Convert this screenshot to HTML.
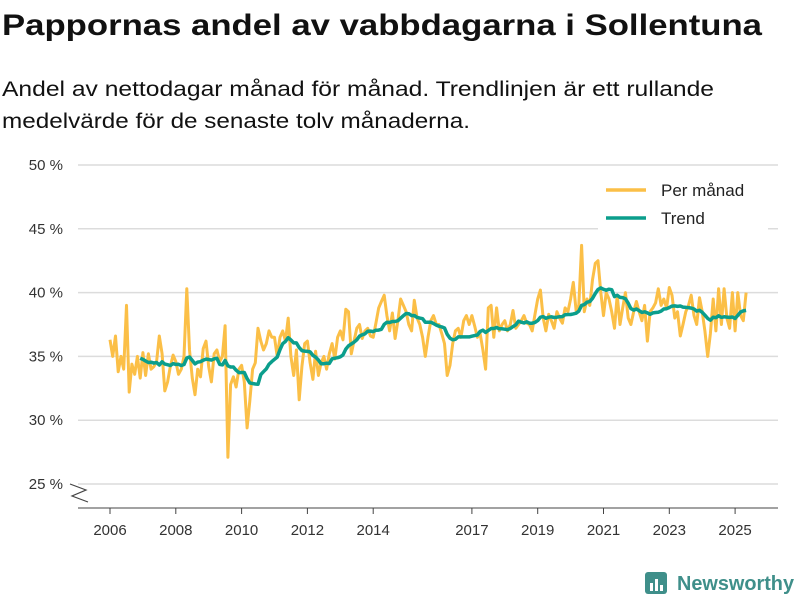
<!DOCTYPE html>
<html><head><meta charset="utf-8"><style>
body{margin:0;background:#fff;}
svg{display:block;font-family:"Liberation Sans",sans-serif;}
</style></head><body>
<svg id="chart" width="800" height="600">
<text x="2" y="35" font-size="30" font-weight="bold" fill="#111" textLength="760" lengthAdjust="spacingAndGlyphs">Pappornas andel av vabbdagarna i Sollentuna</text>
<text x="2" y="96" font-size="21" fill="#111" textLength="712" lengthAdjust="spacingAndGlyphs">Andel av nettodagar månad för månad. Trendlinjen är ett rullande</text>
<text x="2" y="128" font-size="21" fill="#111" textLength="468" lengthAdjust="spacingAndGlyphs">medelvärde för de senaste tolv månaderna.</text>
<g id="grid"></g><g id="xaxis"></g><g id="series"></g>
<g>
<rect x="598" y="176" width="170" height="56" fill="#fff"/>
<line x1="606" y1="190" x2="646" y2="190" stroke="#fbbf47" stroke-width="3.5"/>
<text x="661" y="196" font-size="17" fill="#222">Per månad</text>
<line x1="606" y1="218" x2="646" y2="218" stroke="#0b9e8c" stroke-width="3.5"/>
<text x="661" y="224" font-size="17" fill="#222">Trend</text>
</g>
<g>
<rect x="645" y="572" width="22" height="22" rx="3" fill="#3f8f8a"/>
<rect x="650" y="583" width="3" height="8" fill="#fff"/><rect x="655" y="579" width="3" height="12" fill="#fff"/><rect x="660" y="585" width="3" height="6" fill="#fff"/>
<text x="677" y="590" font-size="20" font-weight="bold" fill="#3f8f8a" textLength="117" lengthAdjust="spacingAndGlyphs">Newsworthy</text>
</g>
</svg>
<script>
const startYear = 2006;
const monthly = [
36.3,35.0,36.6,33.8,35.0,34.0,39.0,32.2,34.4,33.6,35.0,33.3,
35.3,33.5,35.2,34.0,34.2,34.6,36.6,35.2,32.3,33.0,34.2,35.1,
34.6,33.6,34.0,35.0,40.3,35.5,33.3,32.0,34.0,33.4,35.6,36.2,
34.2,33.0,35.2,35.5,34.6,35.0,37.4,27.1,32.8,33.4,32.6,34.0,
34.3,33.0,29.4,31.5,34.0,34.5,37.2,36.2,35.5,36.0,37.0,36.5,
36.5,35.0,36.5,37.0,36.2,38.0,35.0,33.5,35.5,31.6,34.2,36.0,
36.2,34.5,33.2,35.4,33.5,34.5,35.0,34.0,35.2,36.0,34.8,36.5,
37.0,36.3,38.7,38.5,35.2,36.2,37.2,37.5,36.4,37.0,37.2,36.6,
36.5,37.6,38.8,39.3,39.8,38.2,37.0,38.4,36.4,37.8,39.5,39.0,
38.5,37.5,37.0,39.4,38.0,37.5,36.5,35.0,36.5,37.8,38.2,37.5,
37.5,36.8,36.0,33.5,34.3,36.0,37.0,37.2,36.5,37.8,38.2,37.5,
38.2,37.4,36.5,36.8,35.5,34.0,38.8,39.0,36.5,38.8,37.0,37.5,
37.8,37.0,37.5,38.6,37.2,37.5,37.8,38.2,37.6,37.5,37.0,38.3,
39.5,40.2,38.0,37.0,38.3,37.8,37.2,38.5,38.0,37.6,38.8,38.5,
39.5,40.8,38.6,39.0,43.7,38.5,39.5,39.0,41.0,42.3,42.5,40.0,
38.2,40.0,39.5,38.5,37.2,39.8,37.5,38.8,40.0,38.0,37.5,38.5,
39.3,38.5,37.8,39.0,36.2,38.5,38.8,39.2,40.3,39.0,39.5,38.8,
40.4,39.8,38.0,38.5,36.6,37.5,38.5,39.0,39.8,38.2,37.5,39.6,
38.5,37.0,35.0,36.8,39.5,37.0,40.3,37.5,40.3,38.0,37.2,40.0,
37.0,40.0,38.2,37.8,40.0];
const yTicks = [25,30,35,40,45,50];
const yTickLabels = ["25 %","30 %","35 %","40 %","45 %","50 %"];
const xTicks = [2006,2008,2010,2012,2014,2017,2019,2021,2023,2025];

const NS="http://www.w3.org/2000/svg";
function X(t){return 110+(t-2006)*32.9;}
function Y(v){return 165+(50-v)*12.76;}
function mk(tag,attrs,parent){const e=document.createElementNS(NS,tag);for(const k in attrs)e.setAttribute(k,attrs[k]);parent.appendChild(e);return e;}
const grid=document.getElementById('grid'),xa=document.getElementById('xaxis'),ser=document.getElementById('series');
yTicks.forEach((v,i)=>{
 const l=mk('line',{x1:78,x2:778,y1:Y(v),y2:Y(v),stroke:'#dcdcdc','stroke-width':1.5},grid);
 
 
 const t=mk('text',{x:63,y:Y(v)+5,'text-anchor':'end','font-size':15,fill:'#333'},grid);
 t.textContent=yTickLabels[i];
 
 
});
const zz=mk('polyline',{points:'70,484 86,490 72,496 88,502',fill:'none',stroke:'#444','stroke-width':1.2},grid);


const ax=mk('line',{x1:78,x2:778,y1:508,y2:508,stroke:'#444','stroke-width':1},xa);


xTicks.forEach(y=>{
 const tk=mk('line',{x1:X(y),x2:X(y),y1:508,y2:514,stroke:'#444'},xa);
 
 
 const t=mk('text',{x:X(y),y:535,'text-anchor':'middle','font-size':15,fill:'#333'},xa);
 t.textContent=y;
 
 
});
const mp=monthly.map((v,i)=>X(startYear+i/12).toFixed(1)+','+Y(v).toFixed(1)).join(' ');
const ml=mk('polyline',{points:mp,fill:'none',stroke:'#fbbf47','stroke-width':3,'stroke-linejoin':'round'},ser);


const tp=[];
for(let i=11;i<monthly.length;i++){let s=0;for(let j=i-11;j<=i;j++)s+=monthly[j];tp.push(X(startYear+i/12).toFixed(1)+','+Y(s/12).toFixed(1));}
const tl=mk('polyline',{points:tp.join(' '),fill:'none',stroke:'#0b9e8c','stroke-width':3.5,'stroke-linejoin':'round'},ser);


</script>
</body></html>
